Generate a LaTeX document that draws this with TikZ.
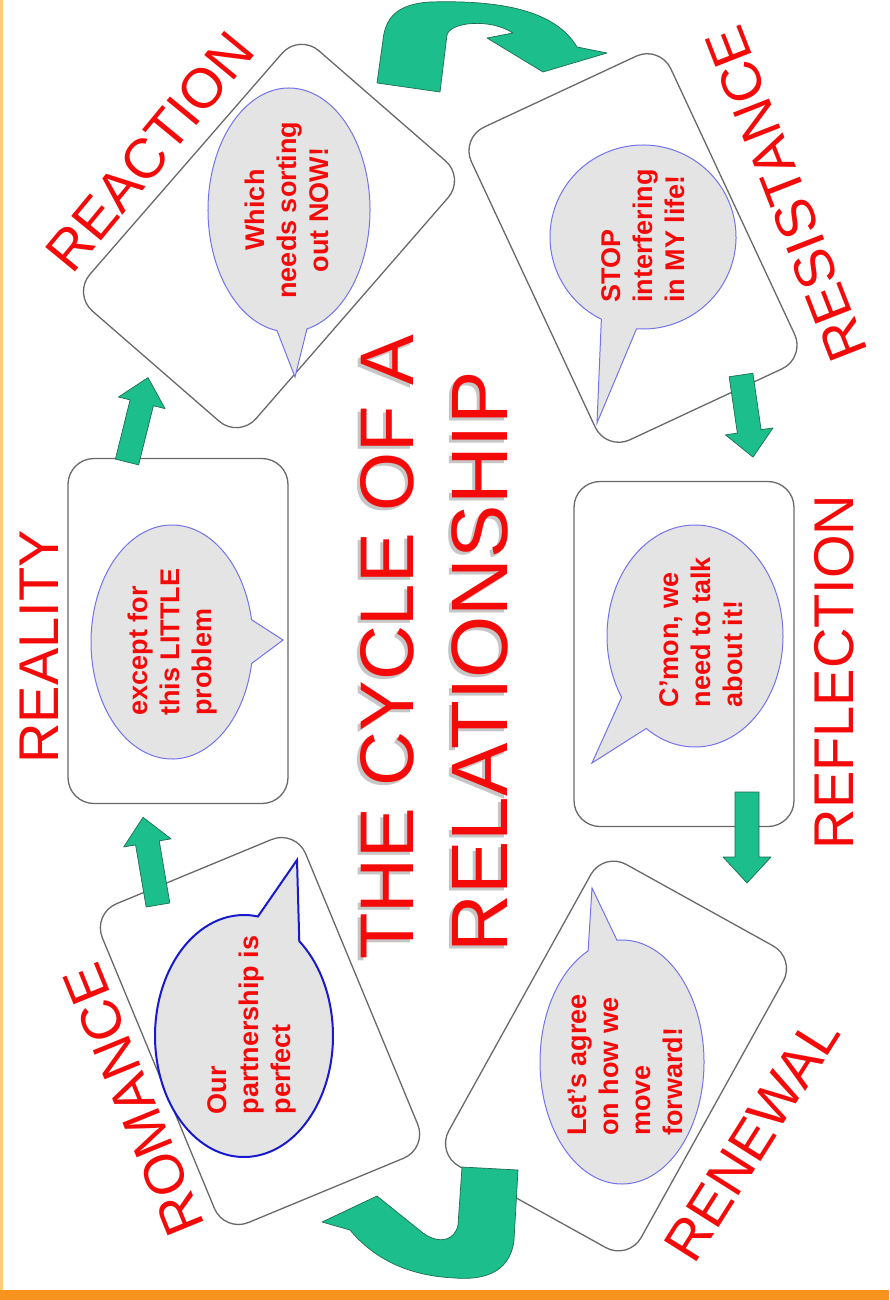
\documentclass[tikz,border=0pt]{standalone}
\usepackage{fontspec}
\setmainfont{Liberation Sans}
\definecolor{arrowgreen}{RGB}{28,190,140}
\definecolor{arrowdark}{RGB}{30,110,80}
\definecolor{boxgray}{RGB}{105,105,105}
\definecolor{bubblegray}{RGB}{228,228,228}
\definecolor{bubbleblue}{RGB}{115,115,235}
\definecolor{bubbledeep}{RGB}{25,25,205}
\definecolor{labelred}{RGB}{245,10,10}
\definecolor{barorange}{RGB}{247,148,29}
\definecolor{edgeorange}{RGB}{252,205,120}
\newcommand{\straightarrow}[4]{%
  \begin{scope}[shift={(#1,#2)}, rotate=#3]
    \filldraw[greenshape] (0,-12) -- ({#4-26},-12) -- ({#4-26},-24) -- (#4,0)
      -- ({#4-26},24) -- ({#4-26},12) -- (0,12) -- cycle;
  \end{scope}}
\begin{document}
\begin{tikzpicture}[x=1pt,y=-1pt,
  cardbox/.style={draw=boxgray, line width=1.3pt, fill=white, rounded corners=26pt,
    minimum width=220pt, minimum height=345pt, inner sep=0pt},
  phase/.style={text=labelred, font=\fontsize{56}{60}\selectfont, inner sep=0pt},
  say/.style={text=labelred, font=\bfseries\fontsize{27}{32}\selectfont, inner sep=0pt},
  bubble/.style={fill=bubblegray, draw=bubbleblue, line width=1pt},
  greenshape/.style={fill=arrowgreen, draw=arrowdark, line width=0.7pt, line join=round},
  titletext/.style={text=labelred, inner sep=0pt}]
\useasboundingbox (0,0) rectangle (889,1300);
\fill[white] (0,0) rectangle (889,1300);
\fill[edgeorange] (0,0) rectangle (2.5,1300);
\fill[barorange] (0,1290) rectangle (889,1300);

% cards
\node[cardbox, rotate=-41] (breaction) at (269,236) {};
\node[cardbox, rotate=25] (bresist) at (633,248) {};
\node[cardbox] (breality) at (178,631) {};
\node[cardbox] (breflect) at (684,654) {};
\node[cardbox, rotate=22.5] (bromance) at (260,1031) {};
\node[cardbox, rotate=-29] (brenewal) at (616,1056) {};

% speech bubbles
\filldraw[bubble] (289,210) ++(98.5:81 and 122)
  arc[start angle=98.5, end angle=437.2, x radius=81, y radius=122] -- (295,377) -- cycle;
\filldraw[bubble] (643,237) ++(116.6:93 and 92)
  arc[start angle=116.6, end angle=454, x radius=93, y radius=92] -- (597,423) -- cycle;
\filldraw[bubble] (172,642) ++(10.6:81 and 117)
  arc[start angle=10.6, end angle=349, x radius=81, y radius=117] -- (283,640) -- cycle;
\filldraw[bubble] (695,636) ++(146.5:88 and 111)
  arc[start angle=146.5, end angle=483.6, x radius=88, y radius=111] -- (592,763) -- cycle;
\filldraw[bubble, draw=bubbledeep, line width=2pt] (244,1036) ++(-51.6:89 and 121)
  arc[start angle=-51.6, end angle=279, x radius=89, y radius=121] -- (297,860) -- cycle;
\filldraw[bubble] (622,1062) ++(266.5:82 and 122)
  arc[start angle=266.5, end angle=605.6, x radius=82, y radius=122] -- (592,888) -- cycle;

% bubble texts
\node[say, rotate=90, align=center] (sreaction) at (287,210) {Which\\needs sorting\\out NOW!};
\node[say, rotate=90, align=left] (sresist) at (643,236) {STOP\\interfering\\in MY life!};
\node[say, rotate=90, align=left] (sreality) at (173,642) {except for\\this LITTLE\\problem};
\node[say, rotate=90, align=left] (sreflect) at (701,632) {C'mon, we\\need to talk\\about it!};
\node[say, rotate=90, align=left] (sromance) at (252,1025) {Our\\partnership is\\perfect};
\node[say, rotate=90, align=left] (srenewal) at (625,1065) {Let's agree\\on how we\\move\\forward!};

% phase labels
\node[phase, rotate=50.5] (lreaction) at (150,152) {REACTION};
\node[phase, rotate=111.3] (lresist) at (786,194) {RESISTANCE};
\node[phase, rotate=90] (lreality) at (39,647) {REALITY};
\node[phase, rotate=90] (lreflect) at (834,672) {REFLECTION};
\node[phase, rotate=112.2] (lromance) at (134,1100) {ROMANCE};
\node[phase, rotate=57.7] (lrenewal) at (752,1139) {RENEWAL};

% straight arrows
\coordinate (aRomTail) at (158,905);
\coordinate (aReaTail) at (127,462);
\coordinate (aResTail) at (741,375);
\coordinate (aRefTail) at (747,792);
\straightarrow{158}{905}{99.7}{89}
\straightarrow{127}{462}{76}{87}
\straightarrow{741}{375}{-81.7}{83}
\straightarrow{747}{792}{-90}{91}

% curved arrows
\filldraw[greenshape] (377,83) -- (440,92) -- (447,35)
  .. controls (450,22) and (490,18) .. (513,33) -- (487,38) -- (543,72) -- (607,53) -- (577,47)
  .. controls (555,10) and (500,0) .. (430,2)
  .. controls (395,4) and (385,20) .. (383,40) -- cycle;
\filldraw[greenshape] (462,1167) -- (518,1170) -- (514,1240)
  .. controls (510,1275) and (480,1280) .. (455,1278)
  .. controls (410,1276) and (375,1260) .. (350,1230) -- (322,1222) -- (377,1196) -- (423,1233)
  .. controls (440,1245) and (455,1240) .. (458,1225) -- cycle;

% title
\node[titletext, text=gray!45, font=\fontsize{76}{80}\selectfont, rotate=90] (title1s) at (384,650) {THE CYCLE OF A};
\node[titletext, text=gray!45, font=\fontsize{80}{84}\selectfont, rotate=90] (title2s) at (477,665) {RELATIONSHIP};
\node[titletext, font=\fontsize{76}{80}\selectfont, rotate=90] (title1) at (387,647) {THE CYCLE OF A};
\node[titletext, font=\fontsize{80}{84}\selectfont, rotate=90] (title2) at (480,662) {RELATIONSHIP};
\end{tikzpicture}
\end{document}
